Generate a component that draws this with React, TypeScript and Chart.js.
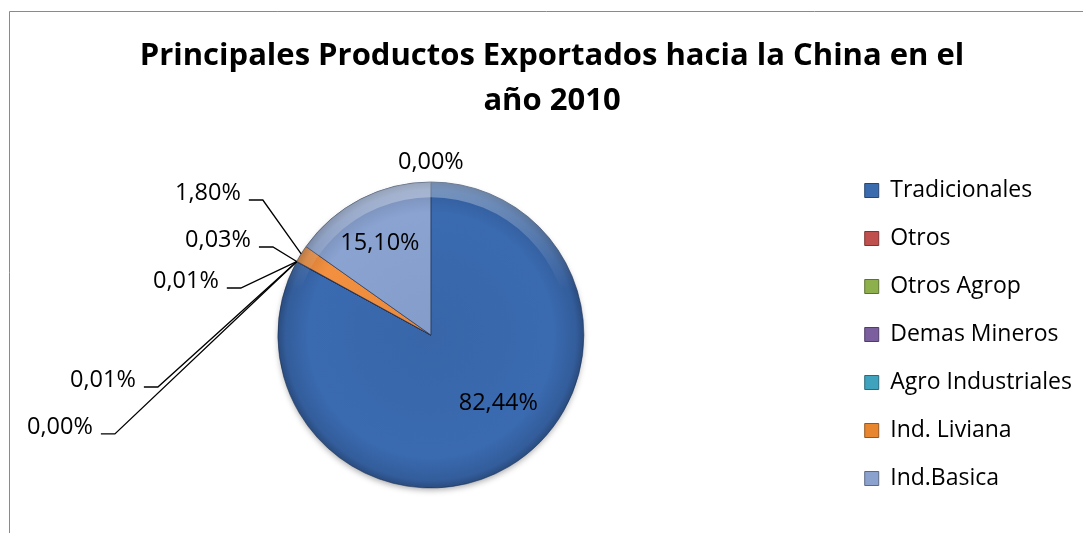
import React, { useEffect, useRef } from 'react';
import { Chart, registerables } from 'chart.js';

Chart.register(...registerables);

const FONT = "'Open Sans', Lato, sans-serif";

const titleLines = ['Principales Productos Exportados hacia la China en el', 'año 2010'];

const categories = [
  'Tradicionales',
  'Otros',
  'Otros Agrop',
  'Demas Mineros',
  'Agro Industriales',
  'Ind. Liviana',
  'Ind.Basica',
  'Resto',
];

const shares = [82.44, 0.0, 0.01, 0.01, 0.03, 1.8, 15.1, 0.0];

const legendCount = 7;

const sliceColors = ['#3A6AB0', '#C0504D', '#9BBB59', '#8064A2', '#4BACC6', '#F39040', '#8AA3D1', '#4F81BD'];
const legendColors = ['#3A6BAE', '#C0504D', '#8DB04C', '#7A5E9E', '#3FA3BE', '#E8862F', '#8CA2CE'];

// label placement, in units of the pie radius, relative to the pie centre
const labelSpots = [
  { dx: 0.441, dy: 0.444, leader: false },
  { dx: -2.209, dy: 0.601, leader: true },
  { dx: -1.928, dy: 0.294, leader: true },
  { dx: -1.386, dy: -0.353, leader: true },
  { dx: -1.176, dy: -0.621, leader: true },
  { dx: -1.242, dy: -0.928, leader: true },
  { dx: -0.333, dy: -0.601, leader: false },
  { dx: 0.0, dy: -1.131, leader: false },
];

const fmt = (v: number) => v.toFixed(2).replace('.', ',') + '%';

function shade(hex: string, f: number) {
  const n = parseInt(hex.slice(1), 16);
  let r = (n >> 16) & 255, g = (n >> 8) & 255, b = n & 255;
  if (f < 0) {
    r = Math.round(r * (1 + f)); g = Math.round(g * (1 + f)); b = Math.round(b * (1 + f));
  } else {
    r = Math.round(r + (255 - r) * f); g = Math.round(g + (255 - g) * f); b = Math.round(b + (255 - b) * f);
  }
  return `rgb(${r},${g},${b})`;
}

const framePlugin = {
  id: 'frame',
  beforeDraw(chart: any) {
    const c = chart.ctx;
    c.save();
    c.fillStyle = '#fff';
    c.fillRect(0, 0, chart.width, chart.height);
    c.strokeStyle = '#8a8a8a';
    c.lineWidth = 1;
    c.beginPath();
    c.moveTo(9.5, chart.height);
    c.lineTo(9.5, 11.5);
    c.lineTo(chart.width, 11.5);
    c.stroke();
    c.restore();
  },
};

const shadowPlugin = {
  id: 'pieShadow',
  beforeDatasetsDraw(chart: any) {
    const arc = chart.getDatasetMeta(0).data[0];
    if (!arc) return;
    const { x, y, outerRadius } = arc;
    const c = chart.ctx;
    c.save();
    c.shadowColor = 'rgba(0,0,0,0.35)';
    c.shadowBlur = 6;
    c.shadowOffsetY = 3;
    c.fillStyle = '#2f5b98';
    c.beginPath();
    c.arc(x, y, outerRadius - 1, 0, Math.PI * 2);
    c.fill();
    c.restore();
  },
  afterDatasetsDraw(chart: any) {
    const arc = chart.getDatasetMeta(0).data[0];
    if (!arc) return;
    const { x, y, outerRadius: r } = arc;
    const c = chart.ctx;
    c.save();
    c.beginPath();
    c.arc(x, y, r, 0, Math.PI * 2);
    c.arc(x, y, r * 0.9, 0, Math.PI * 2, true);
    c.clip();
    const g = c.createLinearGradient(0, y - r, 0, y + r);
    g.addColorStop(0, 'rgba(255,255,255,0.35)');
    g.addColorStop(0.35, 'rgba(255,255,255,0.0)');
    g.addColorStop(1, 'rgba(0,0,0,0.0)');
    c.fillStyle = g;
    c.fillRect(x - r, y - r, 2 * r, 2 * r);
    c.restore();
  },
};

const labelPlugin = {
  id: 'sliceLabels',
  afterDatasetsDraw(chart: any) {
    const meta = chart.getDatasetMeta(0);
    const c = chart.ctx;
    c.save();
    c.font = `23.5px ${FONT}`;
    c.fillStyle = '#000';
    c.strokeStyle = '#000';
    c.lineWidth = 1.3;
    c.textBaseline = 'middle';
    meta.data.forEach((arc: any, i: number) => {
      const { x, y, startAngle, endAngle, outerRadius } = arc;
      const spot = labelSpots[i];
      const text = fmt(shares[i]);
      const lx = x + spot.dx * outerRadius;
      const ly = y + spot.dy * outerRadius;
      if (spot.leader) {
        const mid = (startAngle + endAngle) / 2;
        const ax = x + Math.cos(mid) * outerRadius;
        const ay = y + Math.sin(mid) * outerRadius;
        c.beginPath();
        c.moveTo(lx + 8, ly + 7);
        c.lineTo(lx + 22, ly + 7);
        c.lineTo(ax, ay);
        c.stroke();
        c.textAlign = 'right';
        c.fillText(text, lx, ly);
      } else {
        c.textAlign = 'center';
        c.fillText(text, lx, ly);
      }
    });
    c.restore();
  },
};

export default function App() {
  const ref = useRef<HTMLCanvasElement | null>(null);

  useEffect(() => {
    if (!ref.current) return;
    const chart = new Chart(ref.current, {
      type: 'pie',
      data: {
        labels: categories,
        datasets: [
          {
            data: shares,
            radius: 153,
            backgroundColor: (ctx: any) => {
              const base = sliceColors[ctx.dataIndex] || '#4F81BD';
              const area = ctx.chart.chartArea;
              if (!area) return base;
              const cx = (area.left + area.right) / 2;
              const cy = (area.top + area.bottom) / 2;
              const ctrl = ctx.chart.getDatasetMeta(0).controller;
              const r = (ctrl && ctrl.outerRadius) || 153;
              const g = ctx.chart.ctx.createRadialGradient(cx, cy, 0, cx, cy, r);
              g.addColorStop(0, shade(base, -0.04));
              g.addColorStop(0.8, base);
              g.addColorStop(0.95, shade(base, -0.12));
              g.addColorStop(1, shade(base, -0.28));
              return g;
            },
            borderColor: 'rgba(25,45,80,0.55)',
            borderWidth: 1,
          },
        ],
      },
      options: {
        responsive: false,
        animation: false,
        events: [],
        devicePixelRatio: 1,
        layout: { padding: { top: 10, left: 22, right: 1, bottom: 18 } },
        plugins: {
          title: {
            display: true,
            text: titleLines,
            color: '#000',
            font: { family: FONT, size: 31, weight: 'bold', lineHeight: '45px' },
            padding: { top: 23.5, bottom: 31.5 },
          },
          legend: {
            display: true,
            position: 'right',
            align: 'end',
            labels: {
              boxWidth: 14,
              boxHeight: 14,
              padding: 25,
              color: '#000',
              font: { family: FONT, size: 23 },
              generateLabels: () =>
                categories.slice(0, legendCount).map((t, i) => ({
                  text: t,
                  fillStyle: legendColors[i],
                  strokeStyle: shade(legendColors[i], -0.35),
                  lineWidth: 1,
                  hidden: false,
                  index: i,
                  fontColor: '#000',
                })),
            },
          },
          tooltip: { enabled: false },
        },
      },
      plugins: [framePlugin, shadowPlugin, labelPlugin],
    } as any);
    return () => chart.destroy();
  }, []);

  return (
    <div style={{ position: 'fixed', left: 0, top: 0, width: 1083, height: 533, overflow: 'hidden', background: '#fff' }}>
      <canvas ref={ref} width={1083} height={533} style={{ display: 'block' }} />
    </div>
  );
}
